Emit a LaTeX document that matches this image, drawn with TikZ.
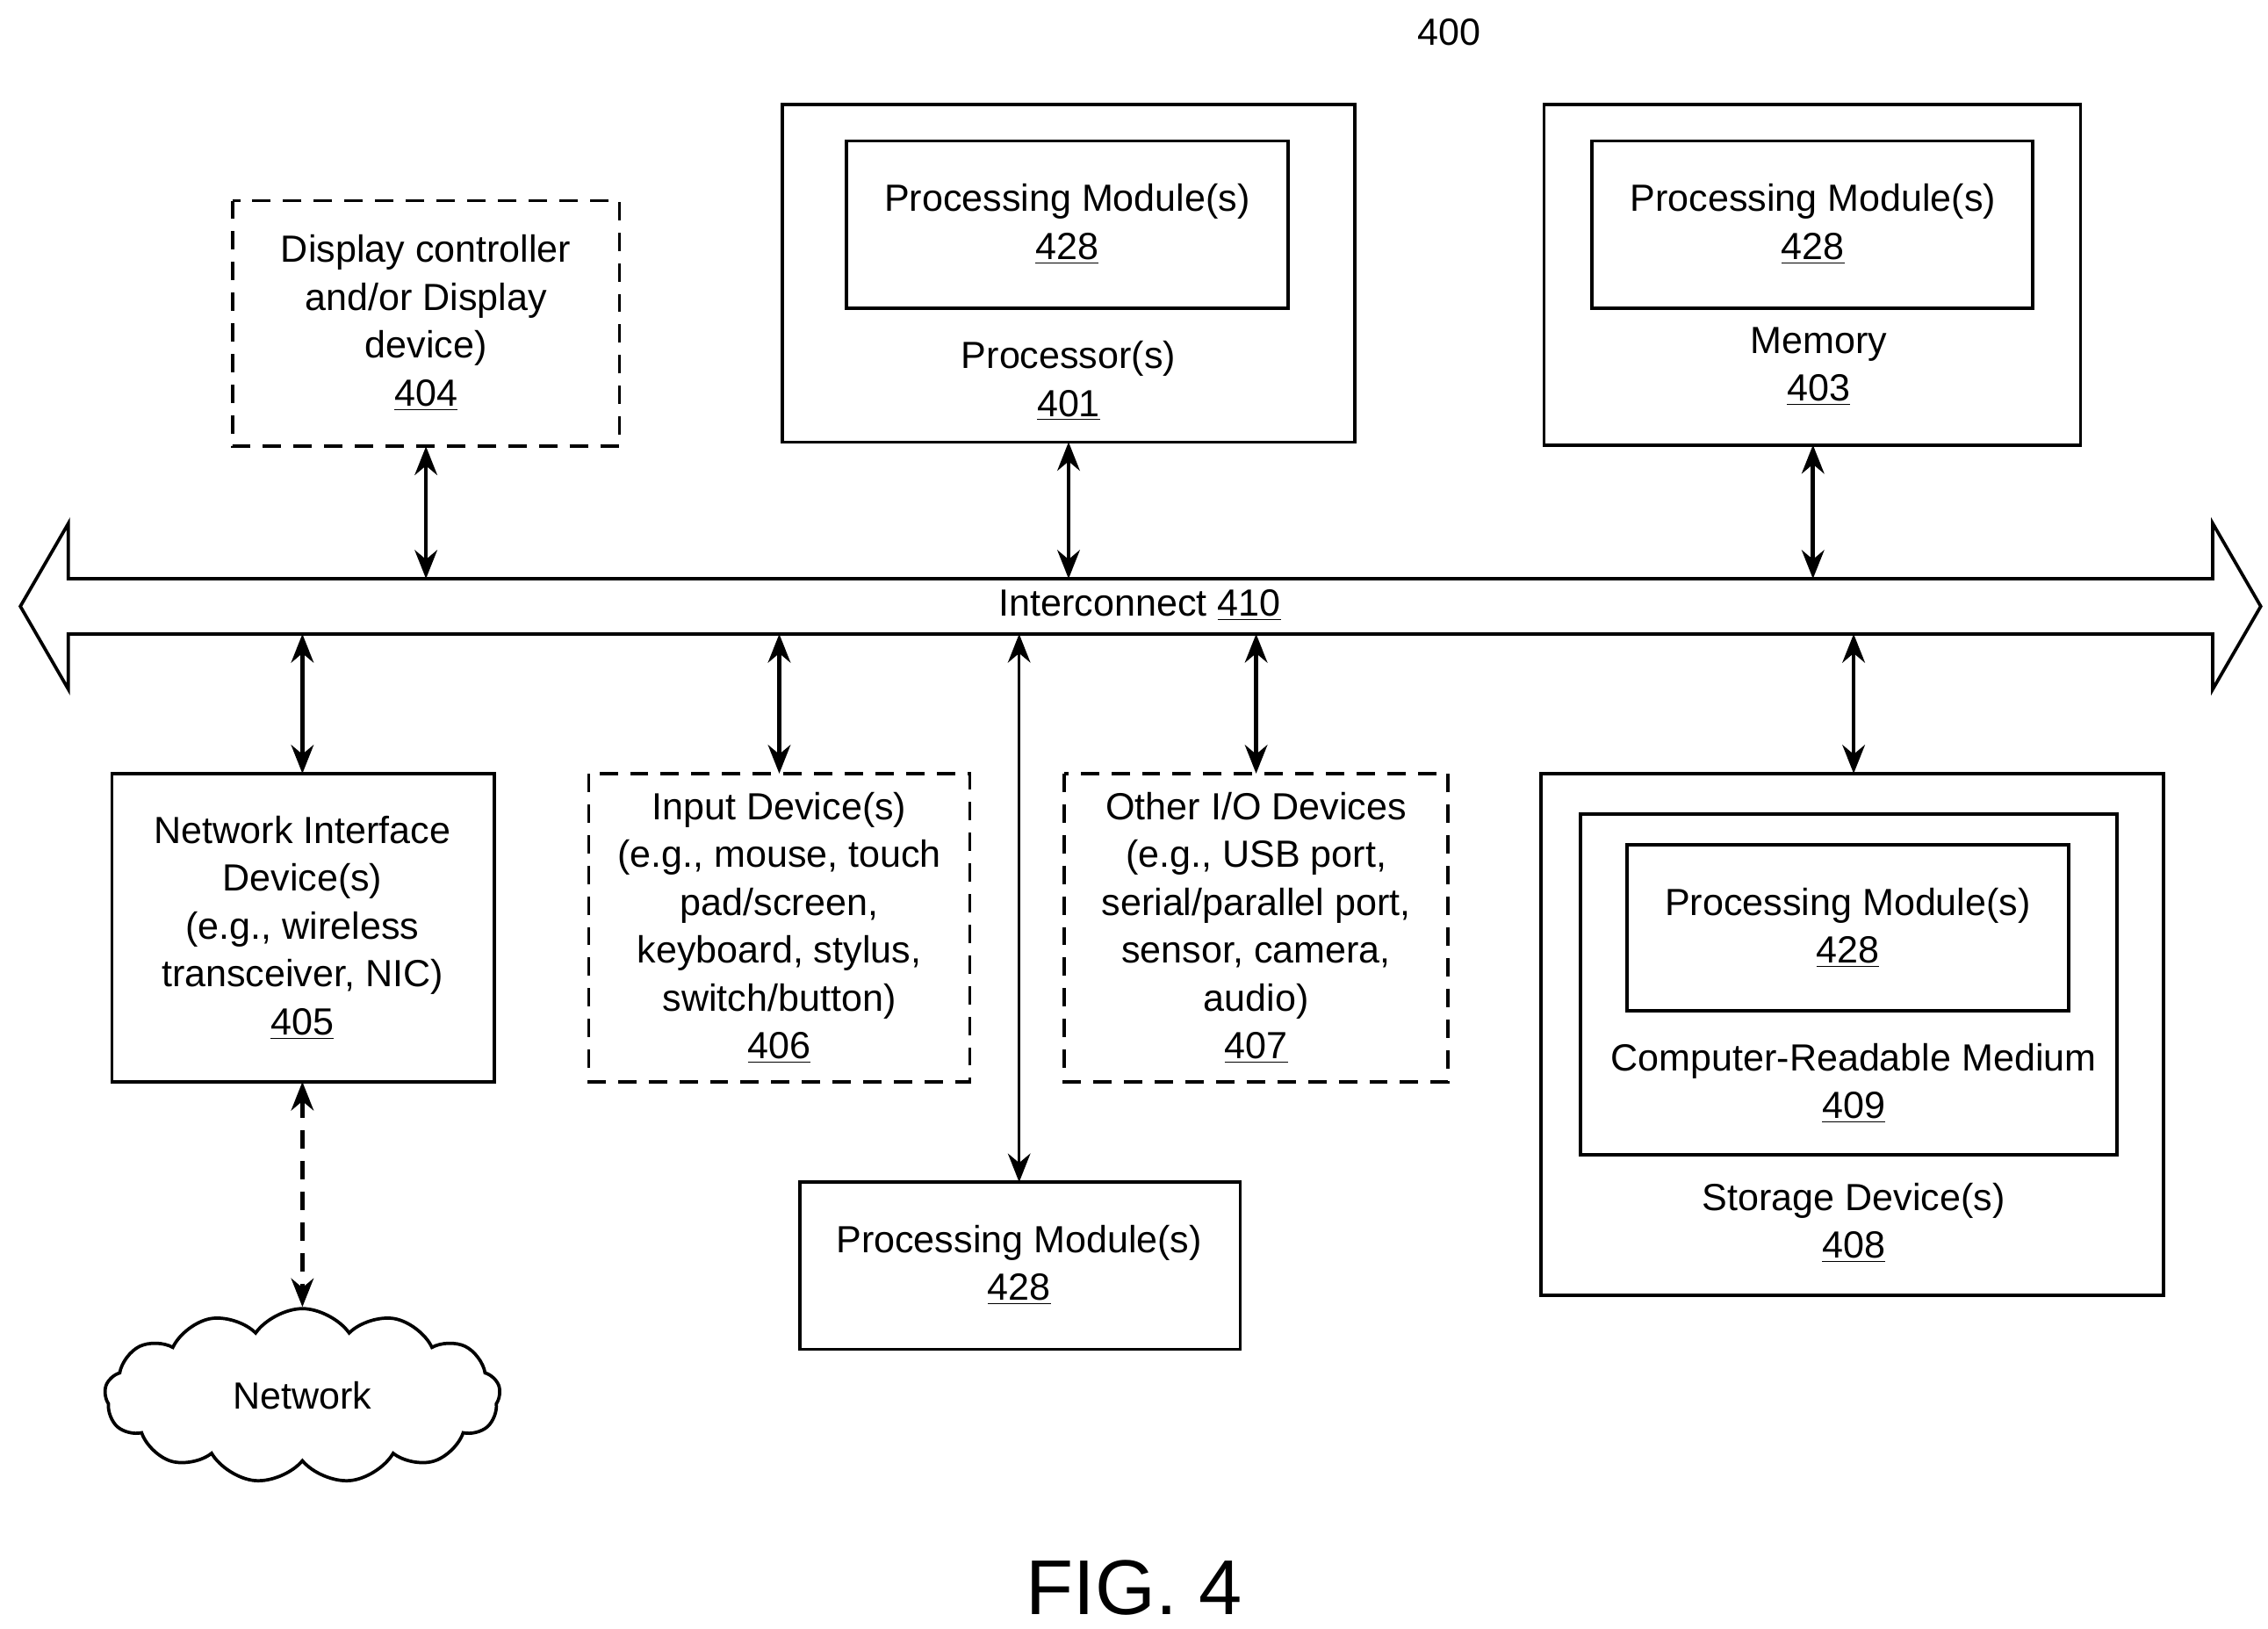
\documentclass[tikz,border=0pt]{standalone}
\usepackage{fontspec}
\setmainfont{Liberation Sans}
\usetikzlibrary{arrows.meta,shapes.symbols}
\begin{document}
\begin{tikzpicture}[x=0.025cm,y=-0.025cm,line width=1.6pt,
  box/.style={draw},
  dbox/.style={draw,dash pattern=on 9pt off 6pt},
  txt/.style={align=center,font=\fontsize{18.5}{23.4}\selectfont,inner sep=0pt},
  biarrow/.style={line width=2pt,{Stealth[length=14pt,width=11pt]}-{Stealth[length=14pt,width=11pt]}}]
\useasboundingbox (0,0) rectangle (1560,1120);
\node[txt] (t400) at (997,22) {400};
\node[font=\fontsize{38}{46}\selectfont,inner sep=0pt] (fig) at (780,1092) {FIG. 4};
% bus
\draw (47,398) -- (1522,398) -- (1522,360) -- (1555,417) -- (1522,474) -- (1522,436) -- (47,436) -- (47,474) -- (14,417) -- (47,360) -- cycle;
\node[txt] (bus) at (784,416) {Interconnect \underline{410}};
\foreach \n/\x in {a/293,b/735,c/1247}{\coordinate (bt\n) at (\x,398);}
\foreach \n/\x in {d/208,e/536,f/701,g/864,h/1275}{\coordinate (bb\n) at (\x,436);}
% top boxes
\draw[dbox] (160,138) rectangle (426,307); \coordinate (b404) at (293,307);
\node[txt] (t404) at (293,222) {Display controller\\and/or Display\\device)\\\underline{404}};
\draw[box] (538,72) rectangle (932,304); \coordinate (b401) at (735,304);
\draw[box] (582,97) rectangle (886,212);
\node[txt] (p1) at (734,154) {Processing Module(s)\\\underline{428}};
\node[txt] (t401) at (735,262) {Processor(s)\\\underline{401}};
\draw[box] (1062,72) rectangle (1431,306); \coordinate (b403) at (1247,306);
\draw[box] (1095,97) rectangle (1398,212);
\node[txt] (p2) at (1247,154) {Processing Module(s)\\\underline{428}};
\node[txt] (t403) at (1251,252) {Memory\\\underline{403}};
% bottom boxes
\draw[box] (77,532) rectangle (340,744); \coordinate (b405t) at (208,532); \coordinate (b405b) at (208,744);
\node[txt] (t405) at (208,638) {Network Interface\\Device(s)\\(e.g., wireless\\transceiver, NIC)\\\underline{405}};
\draw[dbox] (405,532) rectangle (667,744); \coordinate (b406) at (536,532);
\node[txt] (t406) at (536,638) {Input Device(s)\\(e.g., mouse, touch\\pad/screen,\\keyboard, stylus,\\switch/button)\\\underline{406}};
\draw[dbox] (732,532) rectangle (996,744); \coordinate (b407) at (864,532);
\node[txt] (t407) at (864,638) {Other I/O Devices\\(e.g., USB port,\\serial/parallel port,\\sensor, camera,\\audio)\\\underline{407}};
\draw[box] (550,813) rectangle (853,928); \coordinate (bpm) at (701,813);
\node[txt] (p3) at (701,870) {Processing Module(s)\\\underline{428}};
\draw[box] (1060,532) rectangle (1488,891); \coordinate (b408) at (1275,532);
\draw[box] (1087,560) rectangle (1456,794);
\draw[box] (1119,581) rectangle (1423,695);
\node[txt] (p4) at (1271,638) {Processing Module(s)\\\underline{428}};
\node[txt] (t409) at (1275,745) {Computer-Readable Medium\\\underline{409}};
\node[txt] (t408) at (1275,841) {Storage Device(s)\\\underline{408}};
\node[cloud,draw,cloud puffs=13,cloud puff arc=110,aspect=2.4,minimum width=6.8cm,minimum height=3cm,txt] (net) at (208,960) {Network};
% arrows
\draw[biarrow] (b404) -- (bta);
\draw[biarrow] (b401) -- (btb);
\draw[biarrow] (b403) -- (btc);
\draw[biarrow] (bbd) -- (b405t);
\draw[biarrow] (bbe) -- (b406);
\draw[biarrow,line width=1.4pt] (bbf) -- (bpm);
\draw[biarrow] (bbg) -- (b407);
\draw[biarrow] (bbh) -- (b408);
\draw[biarrow,dash pattern=on 9pt off 6pt] (b405b) -- (net.north);
\end{tikzpicture}
\end{document}
